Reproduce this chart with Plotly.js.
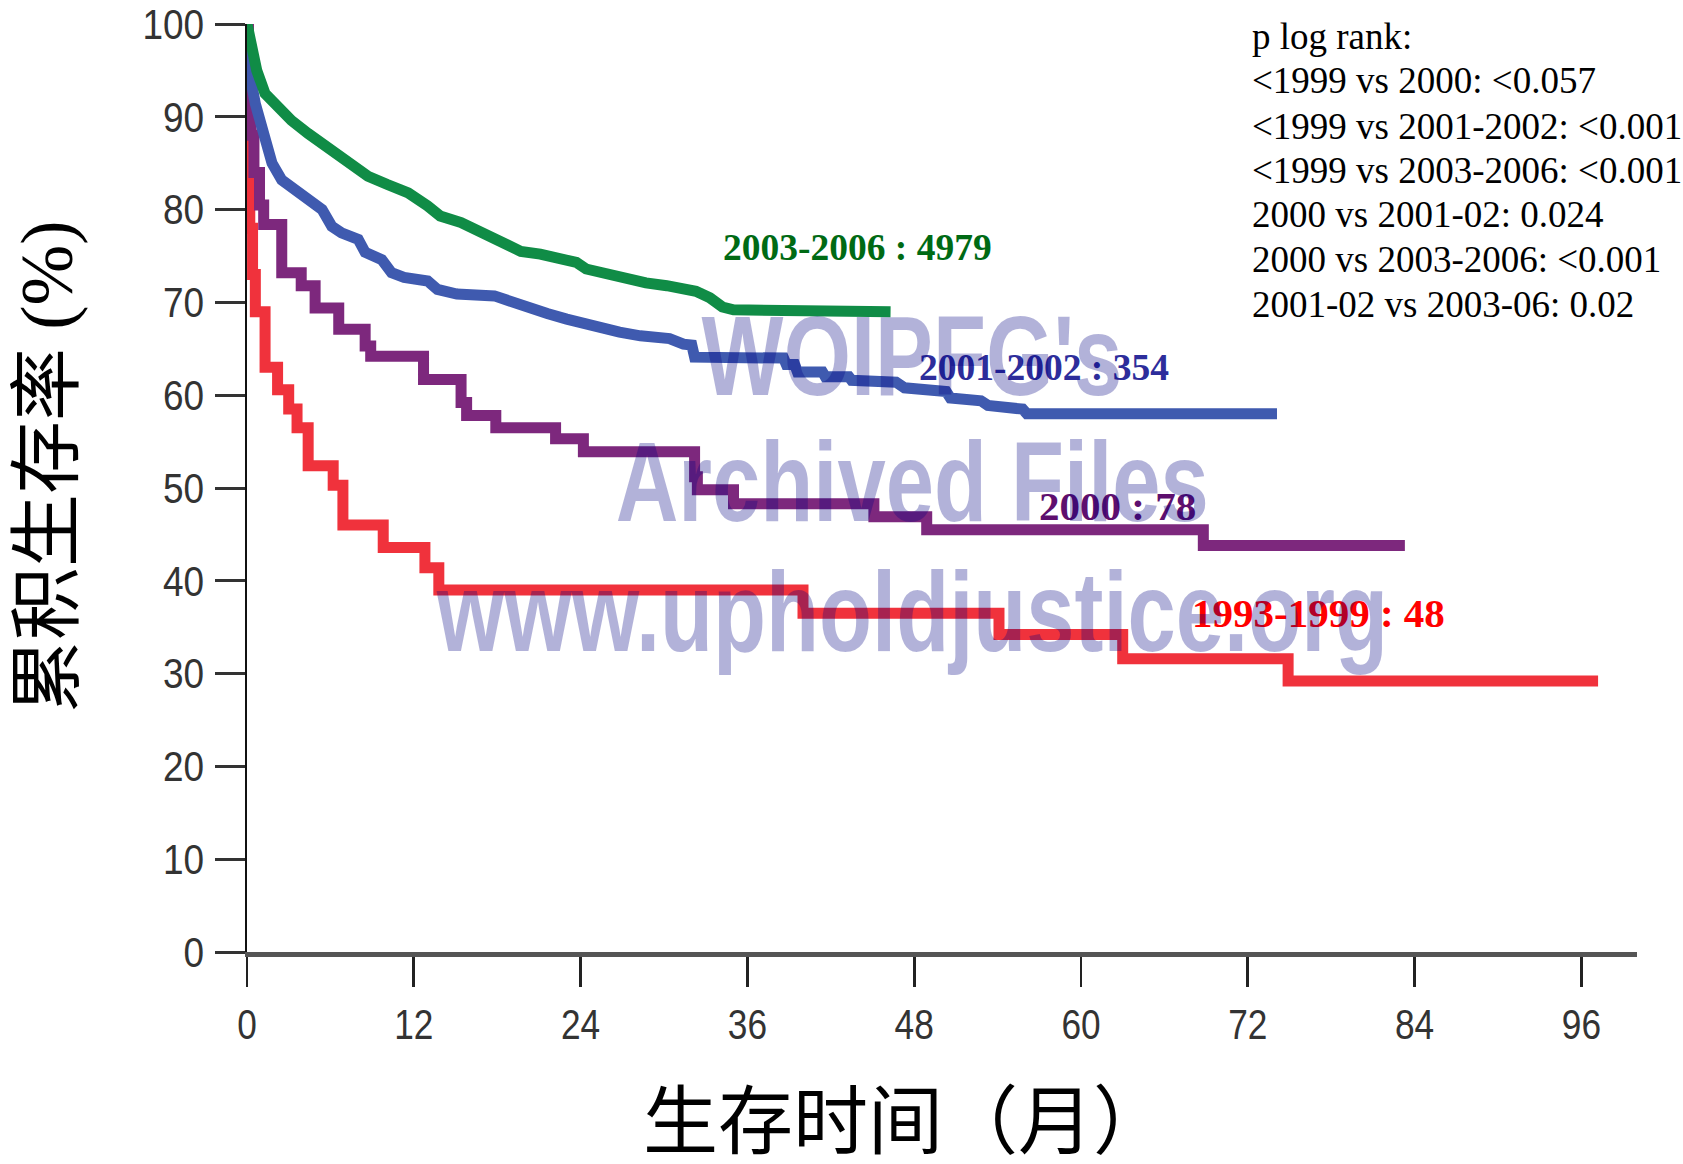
<!DOCTYPE html>
<html>
<head>
<meta charset="utf-8">
<script src="https://cdn.plot.ly/plotly-3.0.1.min.js"></script>
<style>
html,body{margin:0;padding:0;background:#ffffff;}
#chart{width:1683px;height:1164px;}
</style>
</head>
<body>
<div id="chart"></div>
<script>
// ---------- data (months, cumulative survival %) ----------
const redName = "1993-1999 : 48";
const redT = [0, 0.1, 0.2, 0.4, 0.6, 1.3, 2.2, 3.0, 3.6, 4.4, 6.2, 6.9, 9.8, 12.8, 13.8, 40.0, 54.1, 63.0, 74.9, 97.2];
const redS = [100, 85, 78, 73, 69, 63, 60.6, 58.5, 56.5, 52.4, 50.3, 46.0, 43.6, 41.4, 39.0, 36.5, 34.2, 31.6, 29.2, 29.2];

const purpleName = "2000 : 78";
const purpleT = [0, 0.1, 0.3, 0.5, 0.9, 1.2, 2.5, 3.9, 4.9, 6.6, 8.5, 8.9, 12.7, 15.4, 15.8, 17.9, 22.2, 24.2, 32.2, 32.4, 35.0, 45.1, 48.9, 68.8, 83.3];
const purpleS = [100, 94, 88, 84, 80.5, 78.4, 73.2, 71.8, 69.4, 67.1, 65.3, 64.2, 61.7, 59.2, 57.8, 56.5, 55.3, 53.9, 51.2, 49.8, 48.3, 46.9, 45.5, 43.8, 43.8];

const blueName = "2001-2002 : 354";
const blueT = [0, 0.1, 0.6, 1.3, 1.8, 2.5, 3.5, 4.4, 5.4, 6.1, 6.8, 8.0, 8.5, 9.7, 10.4, 11.3, 13.0, 13.7, 15.1, 17.8, 18.7, 20.1, 21.6, 23.0, 24.7, 26.8, 28.3, 30.4, 31.4, 32.0, 32.2, 38.6, 38.8, 39.4, 39.6, 41.4, 41.6, 43.3, 43.5, 46.7, 47.3, 50.3, 50.6, 52.8, 53.3, 55.8, 56.1, 74.1];
const blueS = [100, 95.4, 91.4, 87.5, 85.0, 83.2, 82.1, 81.1, 80.0, 78.2, 77.5, 76.8, 75.4, 74.6, 73.2, 72.7, 72.3, 71.4, 70.9, 70.7, 70.2, 69.6, 68.8, 68.2, 67.5, 66.8, 66.4, 66.1, 65.5, 65.4, 64.1, 64.0, 63.3, 63.3, 62.5, 62.5, 62.0, 62.0, 61.6, 61.4, 60.8, 60.4, 59.7, 59.4, 58.9, 58.5, 58.0, 58.0];

const greenName = "2003-2006 : 4979";
const greenT = [0, 0.3, 0.7, 1.3, 2.0, 3.2, 4.4, 5.8, 7.3, 8.7, 10.1, 11.6, 13.0, 13.9, 15.4, 16.8, 18.2, 19.7, 21.1, 22.5, 23.7, 24.4, 25.9, 27.3, 28.7, 30.2, 32.3, 33.3, 34.2, 35.0, 46.3];
const greenS = [100, 98, 95, 92.5, 91.4, 89.6, 88.2, 86.6, 85.0, 83.6, 82.7, 81.8, 80.4, 79.3, 78.6, 77.5, 76.4, 75.5, 75.2, 74.6, 74.3, 73.6, 73.0, 72.7, 72.1, 71.8, 71.2, 70.5, 69.5, 69.2, 69.0];

const xTicks = [0, 12, 24, 36, 48, 60, 72, 84, 96];
const yTicks = [0, 10, 20, 30, 40, 50, 60, 70, 80, 90, 100];

const pLines = [
  "p log rank:",
  "&lt;1999 vs 2000: &lt;0.057",
  "&lt;1999 vs 2001-2002: &lt;0.001",
  "&lt;1999 vs 2003-2006: &lt;0.001",
  "2000 vs 2001-02: 0.024",
  "2000 vs 2003-2006: &lt;0.001",
  "2001-02 vs 2003-06: 0.02"
];
const watermarkLines = ["WOIPFG's", "Archived Files", "www.upholdjustice.org"];

const yTitle = "累积生存率 (%)";
const xTitle = "生存时间（月）";

// ---------- layout helpers (pixel -> paper) ----------
const W = 1683, H = 1164;
const M = {l: 247, r: 46, t: 24, b: 212};
const PW = W - M.l - M.r, PH = H - M.t - M.b;
const px = x => (x - M.l) / PW;
const py = y => (H - M.b - y) / PH;

const tickFont = {family: "'Liberation Sans', Arial, sans-serif", size: 43, color: "#333333"};
const serif = "'Liberation Serif', 'Times New Roman', serif";

function line(t, s, color, shape) {
  return {x: t, y: s, type: "scatter", mode: "lines",
          line: {color: color, width: 11, shape: shape},
          hoverinfo: "skip"};
}

const traces = [
  line(redT, redS, "#f0323c", "hv"),
  line(purpleT, purpleS, "#7d287d", "hv"),
  line(blueT, blueS, "#3f5aaf", "linear"),
  line(greenT, greenS, "#108c46", "linear")
];

const annotations = [];
const pY = [36, 81, 126, 170.5, 215, 259.5, 304];
pLines.forEach((txt, i) => {
  annotations.push({xref: "paper", yref: "paper", x: px(1250), y: py(pY[i]),
    xanchor: "left", yanchor: "middle", showarrow: false, text: txt,
    font: {family: serif, size: 37, color: "#000"}});
});

const labels = [
  {text: greenName, x: 721, y: 247, color: "#006a14", size: 37.5},
  {text: blueName, x: 917, y: 367, color: "#2d2d9b", size: 37.5},
  {text: purpleName, x: 1037, y: 506, color: "#5e0f6e", size: 41},
  {text: redName, x: 1190, y: 613, color: "#ff0000", size: 41}
];
labels.forEach(l => {
  annotations.push({xref: "paper", yref: "paper", x: px(l.x), y: py(l.y),
    xanchor: "left", yanchor: "middle", showarrow: false, text: "<b>" + l.text + "</b>",
    font: {family: serif, size: l.size, color: l.color}});
});

// axis titles
annotations.push({xref: "paper", yref: "paper", x: px(905), y: py(1122),
  xanchor: "center", yanchor: "middle", showarrow: false, text: xTitle,
  font: {family: "'Liberation Serif', 'Noto Sans CJK SC', serif", size: 75, color: "#000"}});
annotations.push({xref: "paper", yref: "paper", x: px(48), y: py(467),
  xanchor: "center", yanchor: "middle", showarrow: false, text: yTitle, textangle: -90,
  font: {family: "'Liberation Serif', 'Noto Sans CJK SC', serif", size: 73, color: "#000"}});

// watermark (on top of everything)
const wmStart = annotations.length;
const wmY = [356, 482, 612];
watermarkLines.forEach((txt, i) => {
  annotations.push({xref: "paper", yref: "paper", x: px(912), y: py(wmY[i]),
    xanchor: "center", yanchor: "middle", showarrow: false, text: "<b>" + txt + "</b>",
    font: {family: "'Liberation Sans', Arial, sans-serif", size: 113, color: "rgba(0,0,128,0.3)"}});
});

const layout = {
  width: W, height: H,
  margin: {l: M.l, r: M.r, t: M.t, b: M.b, pad: 0},
  paper_bgcolor: "#ffffff", plot_bgcolor: "#ffffff",
  showlegend: false,
  xaxis: {range: [0, 100], tickmode: "array", tickvals: xTicks, ticktext: xTicks.map(String),
    ticks: "outside", ticklen: 30, tickwidth: 2.7, tickcolor: "#222",
    showline: true, linecolor: "#555", linewidth: 4.5,
    showgrid: false, zeroline: false, tickfont: tickFont, ticklabelstandoff: 1,
    ticklabeloverflow: "allow", fixedrange: true},
  yaxis: {range: [0, 100], tickmode: "array", tickvals: yTicks, ticktext: yTicks.map(String),
    ticks: "outside", ticklen: 30, tickwidth: 3, tickcolor: "#333",
    showline: true, linecolor: "#111", linewidth: 2.5,
    showgrid: false, zeroline: false, tickfont: Object.assign({}, tickFont, {size: 42}), ticklabelstandoff: 2,
    ticklabeloverflow: "allow", fixedrange: true},
  annotations: annotations
};

// horizontally condense a set of SVG text nodes around an anchor
function squeeze(nodes, s, anchor) {
  nodes.forEach(el => {
    const b = el.getBBox();
    const ax = anchor === "end" ? b.x + b.width : b.x + b.width / 2;
    const old = el.getAttribute("transform") || "";
    el.setAttribute("transform", old + " translate(" + ax + ",0) scale(" + s + ",1) translate(" + (-ax) + ",0)");
  });
}

Plotly.newPlot("chart", traces, layout, {staticPlot: true, displayModeBar: false}).then(gd => {
  squeeze(gd.querySelectorAll(".xtick text"), 0.82, "middle");
  squeeze(gd.querySelectorAll(".ytick text"), 0.88, "end");
  for (let i = 0; i < watermarkLines.length; i++) {
    squeeze(gd.querySelectorAll('.annotation[data-index="' + (wmStart + i) + '"] text'), 0.768, "middle");
  }
});
</script>
</body>
</html>
